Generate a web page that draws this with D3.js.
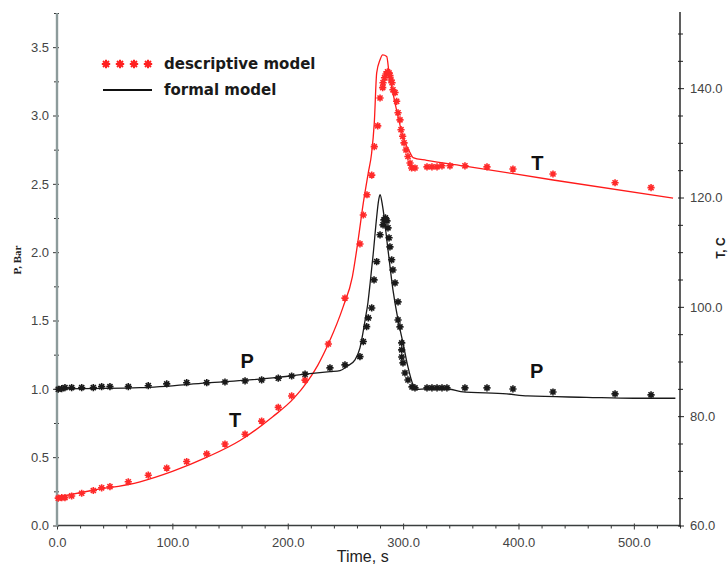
<!DOCTYPE html>
<html>
<head>
<meta charset="utf-8">
<script src="https://cdn.jsdelivr.net/npm/d3@7"></script>
<style>
  html, body { margin: 0; padding: 0; background: #ffffff; }
  svg { display: block; }
</style>
</head>
<body>
<svg id="chart" width="728" height="570"></svg>
<script>
// Formal model, temperature T (°C) against time (s)
const formalTTime = [0, 30, 72, 100, 130, 159, 187, 205, 217, 226, 236, 248, 256, 261.2, 265.5, 269.8, 272.7, 275, 277.1, 280, 282.3, 285.8, 287.8, 291.2, 295.6, 299.9, 306, 308.6, 320.4, 355, 430, 534];
const formalT     = [65.2, 66.4, 68.0, 69.9, 72.5, 75.6, 79.9, 83.2, 86.3, 89.3, 93.6, 100.0, 105.5, 112.5, 119.0, 124.5, 128.1, 133.6, 142.8, 145.2, 146.1, 145.8, 142.8, 139.1, 134.8, 131.1, 128.2, 127.3, 126.8, 125.7, 123.2, 119.9];

// Formal model, pressure P (bar) against time (s)
const formalPTime = [0, 72, 130, 187, 217, 236.6, 245.3, 251.1, 258.3, 262.6, 265, 267, 269.5, 271.5, 274, 277, 278.6, 280, 282.3, 286.6, 291.2, 295.6, 299.9, 304.2, 308.6, 311.8, 320, 340, 350, 390, 408, 459, 500, 536];
const formalP     = [1.0, 1.009, 1.043, 1.080, 1.109, 1.126, 1.133, 1.163, 1.212, 1.30, 1.40, 1.50, 1.63, 1.78, 1.98, 2.25, 2.37, 2.42, 2.332, 2.039, 1.724, 1.504, 1.336, 1.160, 1.029, 0.995, 1.0, 0.997, 0.980, 0.963, 0.948, 0.938, 0.931, 0.931];

// Descriptive model, temperature samples
const descTTime = [1.1, 4.1, 6.9, 12.7, 21.4, 31.5, 38.7, 45.9, 61.8, 79.1, 95.1, 112.4, 129.8, 145.6, 163, 177.4, 191.8, 203.4, 215, 235.2, 249.6, 262.6, 265.5, 268.7, 272.8, 275, 278, 280, 282.3, 282.6, 283.9, 285.2, 286.5, 287.8, 288.6, 289.5, 290.4, 291.2, 293, 294.4, 295.6, 297.3, 298.2, 299.6, 300.8, 302.5, 304.2, 306, 307.4, 310.3, 320.7, 325, 329.4, 333.7, 340.6, 353.6, 372.7, 395.2, 429.9, 483.7, 514.9];
const descT     = [65.0, 65.1, 65.1, 65.4, 65.9, 66.4, 66.9, 67.1, 68.0, 69.2, 70.5, 71.7, 73.1, 74.9, 76.7, 79.1, 81.6, 83.7, 86.6, 93.2, 101.6, 111.5, 116.8, 120.5, 124.1, 129.3, 133.1, 138.2, 140.1, 141.0, 141.9, 142.6, 143.0, 142.8, 142.3, 141.5, 141.0, 139.7, 139.2, 137.6, 135.5, 134.2, 132.4, 131.2, 130.0, 128.7, 127.5, 126.3, 125.4, 125.4, 125.6, 125.6, 125.6, 125.8, 125.8, 125.8, 125.6, 125.2, 124.3, 122.7, 121.8];

// Descriptive model, pressure samples
const descPTime = [1.1, 4.1, 6.9, 12.7, 21.4, 31.5, 38.7, 45.9, 61.8, 79.1, 95.1, 112.4, 129.8, 145.6, 163, 177.4, 191.8, 203.4, 215, 236.6, 249.6, 262.6, 265.5, 268.4, 269.8, 272.8, 274.8, 277.1, 280, 282.6, 283.4, 284.7, 286, 286.9, 287.8, 288.6, 290.1, 291.2, 293, 295.6, 295.6, 297.3, 298.8, 298.8, 298.8, 299.9, 301.6, 304.2, 307.7, 310.3, 320.7, 325, 329.4, 333.7, 338, 353.6, 372.7, 395.2, 429.9, 483.7, 514.9];
const descP     = [0.997, 1.001, 1.009, 1.009, 1.009, 1.009, 1.016, 1.016, 1.016, 1.023, 1.036, 1.045, 1.045, 1.050, 1.058, 1.065, 1.078, 1.094, 1.107, 1.153, 1.175, 1.236, 1.346, 1.455, 1.519, 1.592, 1.797, 1.931, 2.127, 2.200, 2.236, 2.251, 2.229, 2.178, 2.105, 2.039, 1.944, 1.870, 1.775, 1.636, 1.504, 1.453, 1.336, 1.285, 1.233, 1.190, 1.116, 1.065, 1.014, 1.007, 1.007, 1.007, 1.007, 1.007, 1.007, 1.007, 1.007, 0.999, 0.977, 0.963, 0.956];

// Axis ticks
const xMajorTicks = [0, 100, 200, 300, 400, 500];
const pMajorTicks = [0, 0.5, 1.0, 1.5, 2.0, 2.5, 3.0, 3.5];
const tMajorTicks = [60, 80, 100, 120, 140];

const legendLabels = ["descriptive model", "formal model"];
const curveLabels = ["P", "T"];

const svg = d3.select("#chart");
const plotLeft = 57, plotRight = 680, plotTop = 13, plotBottom = 525.5;

const x  = d3.scaleLinear().domain([0, 540]).range([plotLeft, plotRight]);
const yP = d3.scaleLinear().domain([0, 3.75]).range([plotBottom, plotTop]);
const yT = d3.scaleLinear().domain([60, 153.75]).range([plotBottom, plotTop]);

const fmt = d3.format(".1f");
const tickFont = "'Liberation Sans', Arial, sans-serif";

// ---- axes ----
function styleAxis(g, color, textColor) {
  g.selectAll("path.domain").remove();
  g.selectAll("line").attr("stroke", color).attr("stroke-width", 1);
  g.selectAll("text").attr("fill", textColor).style("font-family", tickFont).style("font-size", "13px");
}

// bottom axis
const xMinor = d3.range(0, 541, 20).filter(v => v % 100 !== 0);
const gxMinor = svg.append("g").attr("transform", `translate(0,${plotBottom})`)
  .call(d3.axisBottom(x).tickValues(xMinor).tickSize(3).tickFormat(""));
styleAxis(gxMinor, "#333", "#333");
const gx = svg.append("g").attr("transform", `translate(0,${plotBottom})`)
  .call(d3.axisBottom(x).tickValues(xMajorTicks).tickSize(4).tickPadding(8).tickFormat(fmt));
styleAxis(gx, "#333", "#444");
gx.selectAll("line").attr("y1", -2);
svg.append("line").attr("x1", plotLeft).attr("x2", plotRight).attr("y1", plotBottom).attr("y2", plotBottom)
  .attr("stroke", "#3a3f3f").attr("stroke-width", 1.3);

// left axis (pressure)
const pMinor = d3.range(0.25, 3.76, 0.5);
const gpMinor = svg.append("g").attr("transform", `translate(${plotLeft},0)`)
  .call(d3.axisLeft(yP).tickValues(pMinor).tickSize(3).tickFormat(""));
styleAxis(gpMinor, "#333", "#333");
gpMinor.selectAll("line").attr("x1", 2);
const gp = svg.append("g").attr("transform", `translate(${plotLeft},0)`)
  .call(d3.axisLeft(yP).tickValues(pMajorTicks).tickSize(4).tickPadding(4).tickFormat(fmt));
styleAxis(gp, "#333", "#444");
gp.selectAll("line").attr("x1", 2);
svg.append("line").attr("x1", plotLeft).attr("x2", plotLeft).attr("y1", plotTop).attr("y2", plotBottom + 1)
  .attr("stroke", "#8d9b9b").attr("stroke-width", 2.4);

// right axis (temperature)
const tMinor = d3.range(65, 154, 5).filter(v => v % 20 !== 0);
const gtMinor = svg.append("g").attr("transform", `translate(${plotRight},0)`)
  .call(d3.axisRight(yT).tickValues(tMinor).tickSize(3).tickFormat(""));
styleAxis(gtMinor, "#222", "#222");
gtMinor.selectAll("line").attr("x1", -2);
const gt = svg.append("g").attr("transform", `translate(${plotRight},0)`)
  .call(d3.axisRight(yT).tickValues(tMajorTicks).tickSize(4).tickPadding(6).tickFormat(fmt));
styleAxis(gt, "#222", "#444");
gt.selectAll("line").attr("x1", -2);
svg.append("line").attr("x1", plotRight).attr("x2", plotRight).attr("y1", plotTop - 1).attr("y2", plotBottom + 1)
  .attr("stroke", "#1a1a1a").attr("stroke-width", 1.4);

// axis titles
svg.append("text").attr("x", x(265)).attr("y", 562).attr("text-anchor", "middle")
  .style("font-family", tickFont).style("font-size", "16px").attr("fill", "#222").text("Time, s");
svg.append("text").attr("transform", "translate(21,260) rotate(-90)").attr("text-anchor", "middle")
  .style("font-family", "'Liberation Serif', 'Times New Roman', serif").style("font-weight", "bold")
  .style("font-size", "11px").attr("fill", "#222").text("P, Bar");
svg.append("text").attr("transform", "translate(725,248) rotate(-90)").attr("text-anchor", "middle")
  .style("font-family", tickFont).style("font-weight", "bold")
  .style("font-size", "12px").attr("fill", "#222").text("T, C");

// ---- model curves ----
const lineT = d3.line().x((d, i) => x(formalTTime[i])).y(d => yT(d)).curve(d3.curveMonotoneX);
const lineP = d3.line().x((d, i) => x(formalPTime[i])).y(d => yP(d)).curve(d3.curveMonotoneX);

svg.append("path").attr("d", lineT(formalT)).attr("fill", "none")
  .attr("stroke", "#ff1a1a").attr("stroke-width", 1.3);
svg.append("path").attr("d", lineP(formalP)).attr("fill", "none")
  .attr("stroke", "#1a1a1a").attr("stroke-width", 1.3);

// ---- descriptive samples as asterisks ----
function star(r) {
  let d = "";
  for (let k = 0; k < 4; k++) {
    const a = k * Math.PI / 4;
    const dx = r * Math.cos(a), dy = r * Math.sin(a);
    d += `M${-dx},${-dy}L${dx},${dy}`;
  }
  return d;
}
const starPath = star(3.6);

svg.append("g").selectAll("path").data(descT).join("path")
  .attr("transform", (d, i) => `translate(${x(descTTime[i])},${yT(d)})`)
  .attr("d", starPath).attr("stroke", "#ff2a2a").attr("stroke-width", 1.6).attr("fill", "none");

svg.append("g").selectAll("path").data(descP).join("path")
  .attr("transform", (d, i) => `translate(${x(descPTime[i])},${yP(d)})`)
  .attr("d", starPath).attr("stroke", "#1a1a1a").attr("stroke-width", 1.6).attr("fill", "none");

// ---- curve labels ----
const labelFont = "Arial, 'Liberation Sans', sans-serif";
const labels = [
  { text: curveLabels[0], t: 159, v: 1.15, scale: yP },
  { text: curveLabels[1], t: 149, v: 0.72, scale: yP },
  { text: curveLabels[1], t: 411, v: 2.60, scale: yP },
  { text: curveLabels[0], t: 410, v: 1.08, scale: yP }
];
svg.append("g").selectAll("text").data(labels).join("text")
  .attr("x", d => x(d.t)).attr("y", d => d.scale(d.v))
  .style("font-family", labelFont).style("font-weight", "bold").style("font-size", "20px")
  .attr("fill", "#111").text(d => d.text);

// ---- legend ----
const legend = svg.append("g");
legend.selectAll("path").data([0, 1, 2, 3]).join("path")
  .attr("transform", d => `translate(${106 + d * 14},${64})`)
  .attr("d", star(4.2)).attr("stroke", "#ff2020").attr("stroke-width", 2).attr("fill", "none");
legend.append("line").attr("x1", 103).attr("x2", 152).attr("y1", 90).attr("y2", 90)
  .attr("stroke", "#111").attr("stroke-width", 2.2);
legend.selectAll("text").data(legendLabels).join("text")
  .attr("x", 164).attr("y", (d, i) => 69 + i * 26)
  .style("font-family", "'DejaVu Sans', Verdana, sans-serif").style("font-weight", "bold")
  .style("font-size", "15px").attr("fill", "#1a1a1a").text(d => d);
</script>
</body>
</html>
